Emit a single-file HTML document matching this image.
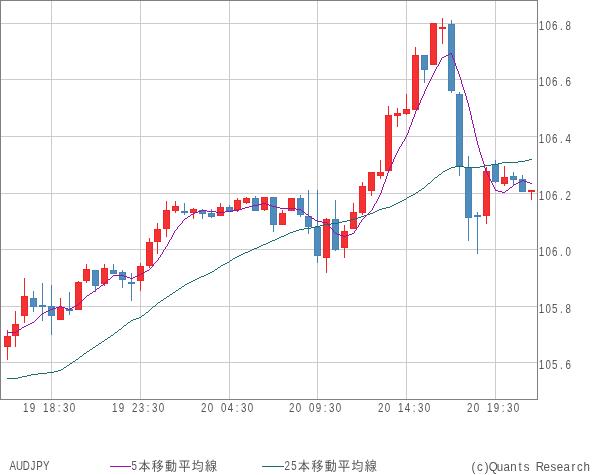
<!DOCTYPE html>
<html lang="ja"><head><meta charset="utf-8"><title>AUDJPY</title>
<style>html,body{margin:0;padding:0;background:#fff}svg{display:block}text{fill:#555555;font-size:13.33px}.s{font-family:"Liberation Sans","IPAGothic",sans-serif;font-size:12.5px}.j{font-family:"Liberation Sans","IPAGothic",sans-serif}</style></head><body>
<svg width="600" height="475" viewBox="0 0 600 475">
<rect x="0" y="0" width="600" height="475" fill="#ffffff"/>
<g shape-rendering="crispEdges" fill="#cccccc">
<rect x="51" y="1" width="1" height="398"/>
<rect x="140" y="1" width="1" height="398"/>
<rect x="229" y="1" width="1" height="398"/>
<rect x="317" y="1" width="1" height="398"/>
<rect x="406" y="1" width="1" height="398"/>
<rect x="495" y="1" width="1" height="398"/>
<rect x="1" y="23" width="536" height="1"/>
<rect x="1" y="79" width="536" height="1"/>
<rect x="1" y="136" width="536" height="1"/>
<rect x="1" y="193" width="536" height="1"/>
<rect x="1" y="249" width="536" height="1"/>
<rect x="1" y="306" width="536" height="1"/>
<rect x="1" y="362" width="536" height="1"/>
</g>
<g shape-rendering="crispEdges" fill="#808080">
<rect x="0" y="0" width="538" height="1"/><rect x="0" y="399" width="538" height="1"/>
<rect x="0" y="0" width="1" height="400"/><rect x="537" y="0" width="1" height="400"/>
</g>
<g shape-rendering="crispEdges">
<rect x="7" y="330" width="1" height="30" fill="#f02626"/>
<rect x="4" y="336" width="7" height="11" fill="#f02626"/>
<rect x="5" y="337" width="5" height="9" fill="#f33333"/>
<rect x="15" y="311" width="1" height="36" fill="#f02626"/>
<rect x="12" y="324" width="7" height="12" fill="#f02626"/>
<rect x="13" y="325" width="5" height="10" fill="#f33333"/>
<rect x="24" y="278" width="1" height="45" fill="#f02626"/>
<rect x="21" y="296" width="7" height="20" fill="#f02626"/>
<rect x="22" y="297" width="5" height="18" fill="#f33333"/>
<rect x="33" y="291" width="1" height="21" fill="#4682b4"/>
<rect x="30" y="298" width="7" height="9" fill="#4682b4"/>
<rect x="31" y="299" width="5" height="7" fill="#508cbc"/>
<rect x="42" y="283" width="1" height="38" fill="#4682b4"/>
<rect x="39" y="305" width="7" height="2" fill="#4682b4"/>
<rect x="51" y="285" width="1" height="50" fill="#4682b4"/>
<rect x="48" y="306" width="7" height="10" fill="#4682b4"/>
<rect x="49" y="307" width="5" height="8" fill="#508cbc"/>
<rect x="60" y="298" width="1" height="22" fill="#f02626"/>
<rect x="57" y="307" width="7" height="13" fill="#f02626"/>
<rect x="58" y="308" width="5" height="11" fill="#f33333"/>
<rect x="69" y="292" width="1" height="23" fill="#4682b4"/>
<rect x="66" y="309" width="7" height="2" fill="#4682b4"/>
<rect x="78" y="281" width="1" height="29" fill="#f02626"/>
<rect x="75" y="282" width="7" height="28" fill="#f02626"/>
<rect x="76" y="283" width="5" height="26" fill="#f33333"/>
<rect x="86" y="264" width="1" height="19" fill="#f02626"/>
<rect x="83" y="269" width="7" height="12" fill="#f02626"/>
<rect x="84" y="270" width="5" height="10" fill="#f33333"/>
<rect x="95" y="270" width="1" height="22" fill="#4682b4"/>
<rect x="92" y="270" width="7" height="16" fill="#4682b4"/>
<rect x="93" y="271" width="5" height="14" fill="#508cbc"/>
<rect x="104" y="264" width="1" height="22" fill="#f02626"/>
<rect x="101" y="268" width="7" height="16" fill="#f02626"/>
<rect x="102" y="269" width="5" height="14" fill="#f33333"/>
<rect x="113" y="264" width="1" height="10" fill="#4682b4"/>
<rect x="110" y="270" width="7" height="4" fill="#4682b4"/>
<rect x="111" y="271" width="5" height="2" fill="#508cbc"/>
<rect x="122" y="270" width="1" height="18" fill="#4682b4"/>
<rect x="119" y="272" width="7" height="8" fill="#4682b4"/>
<rect x="120" y="273" width="5" height="6" fill="#508cbc"/>
<rect x="131" y="273" width="1" height="28" fill="#4682b4"/>
<rect x="128" y="282" width="7" height="2" fill="#4682b4"/>
<rect x="140" y="263" width="1" height="28" fill="#f02626"/>
<rect x="137" y="266" width="7" height="15" fill="#f02626"/>
<rect x="138" y="267" width="5" height="13" fill="#f33333"/>
<rect x="149" y="238" width="1" height="30" fill="#f02626"/>
<rect x="146" y="242" width="7" height="24" fill="#f02626"/>
<rect x="147" y="243" width="5" height="22" fill="#f33333"/>
<rect x="157" y="223" width="1" height="31" fill="#f02626"/>
<rect x="154" y="229" width="7" height="13" fill="#f02626"/>
<rect x="155" y="230" width="5" height="11" fill="#f33333"/>
<rect x="166" y="201" width="1" height="36" fill="#f02626"/>
<rect x="163" y="210" width="7" height="19" fill="#f02626"/>
<rect x="164" y="211" width="5" height="17" fill="#f33333"/>
<rect x="175" y="201" width="1" height="12" fill="#f02626"/>
<rect x="172" y="206" width="7" height="5" fill="#f02626"/>
<rect x="173" y="207" width="5" height="3" fill="#f33333"/>
<rect x="184" y="203" width="1" height="12" fill="#4682b4"/>
<rect x="181" y="211" width="7" height="2" fill="#4682b4"/>
<rect x="193" y="208" width="1" height="11" fill="#f02626"/>
<rect x="190" y="209" width="7" height="4" fill="#f02626"/>
<rect x="191" y="210" width="5" height="2" fill="#f33333"/>
<rect x="202" y="209" width="1" height="10" fill="#4682b4"/>
<rect x="199" y="210" width="7" height="4" fill="#4682b4"/>
<rect x="200" y="211" width="5" height="2" fill="#508cbc"/>
<rect x="211" y="209" width="1" height="9" fill="#4682b4"/>
<rect x="208" y="213" width="7" height="4" fill="#4682b4"/>
<rect x="209" y="214" width="5" height="2" fill="#508cbc"/>
<rect x="220" y="203" width="1" height="13" fill="#f02626"/>
<rect x="217" y="207" width="7" height="9" fill="#f02626"/>
<rect x="218" y="208" width="5" height="7" fill="#f33333"/>
<rect x="229" y="205" width="1" height="6" fill="#4682b4"/>
<rect x="226" y="207" width="7" height="4" fill="#4682b4"/>
<rect x="227" y="208" width="5" height="2" fill="#508cbc"/>
<rect x="237" y="198" width="1" height="14" fill="#f02626"/>
<rect x="234" y="200" width="7" height="10" fill="#f02626"/>
<rect x="235" y="201" width="5" height="8" fill="#f33333"/>
<rect x="246" y="197" width="1" height="7" fill="#f02626"/>
<rect x="243" y="198" width="7" height="5" fill="#f02626"/>
<rect x="244" y="199" width="5" height="3" fill="#f33333"/>
<rect x="255" y="196" width="1" height="15" fill="#4682b4"/>
<rect x="252" y="198" width="7" height="13" fill="#4682b4"/>
<rect x="253" y="199" width="5" height="11" fill="#508cbc"/>
<rect x="264" y="197" width="1" height="14" fill="#f02626"/>
<rect x="261" y="197" width="7" height="13" fill="#f02626"/>
<rect x="262" y="198" width="5" height="11" fill="#f33333"/>
<rect x="273" y="197" width="1" height="35" fill="#4682b4"/>
<rect x="270" y="197" width="7" height="28" fill="#4682b4"/>
<rect x="271" y="198" width="5" height="26" fill="#508cbc"/>
<rect x="282" y="210" width="1" height="15" fill="#f02626"/>
<rect x="279" y="213" width="7" height="12" fill="#f02626"/>
<rect x="280" y="214" width="5" height="10" fill="#f33333"/>
<rect x="291" y="198" width="1" height="13" fill="#f02626"/>
<rect x="288" y="198" width="7" height="13" fill="#f02626"/>
<rect x="289" y="199" width="5" height="11" fill="#f33333"/>
<rect x="300" y="195" width="1" height="22" fill="#4682b4"/>
<rect x="297" y="198" width="7" height="17" fill="#4682b4"/>
<rect x="298" y="199" width="5" height="15" fill="#508cbc"/>
<rect x="308" y="190" width="1" height="44" fill="#4682b4"/>
<rect x="305" y="216" width="7" height="11" fill="#4682b4"/>
<rect x="306" y="217" width="5" height="9" fill="#508cbc"/>
<rect x="317" y="190" width="1" height="73" fill="#4682b4"/>
<rect x="314" y="227" width="7" height="29" fill="#4682b4"/>
<rect x="315" y="228" width="5" height="27" fill="#508cbc"/>
<rect x="326" y="218" width="1" height="55" fill="#f02626"/>
<rect x="323" y="219" width="7" height="39" fill="#f02626"/>
<rect x="324" y="220" width="5" height="37" fill="#f33333"/>
<rect x="335" y="200" width="1" height="51" fill="#4682b4"/>
<rect x="332" y="219" width="7" height="31" fill="#4682b4"/>
<rect x="333" y="220" width="5" height="29" fill="#508cbc"/>
<rect x="344" y="225" width="1" height="33" fill="#f02626"/>
<rect x="341" y="231" width="7" height="17" fill="#f02626"/>
<rect x="342" y="232" width="5" height="15" fill="#f33333"/>
<rect x="353" y="203" width="1" height="26" fill="#f02626"/>
<rect x="350" y="212" width="7" height="17" fill="#f02626"/>
<rect x="351" y="213" width="5" height="15" fill="#f33333"/>
<rect x="362" y="182" width="1" height="33" fill="#f02626"/>
<rect x="359" y="186" width="7" height="27" fill="#f02626"/>
<rect x="360" y="187" width="5" height="25" fill="#f33333"/>
<rect x="371" y="172" width="1" height="24" fill="#f02626"/>
<rect x="368" y="172" width="7" height="19" fill="#f02626"/>
<rect x="369" y="173" width="5" height="17" fill="#f33333"/>
<rect x="380" y="160" width="1" height="19" fill="#f02626"/>
<rect x="377" y="172" width="7" height="4" fill="#f02626"/>
<rect x="378" y="173" width="5" height="2" fill="#f33333"/>
<rect x="388" y="106" width="1" height="65" fill="#f02626"/>
<rect x="385" y="115" width="7" height="56" fill="#f02626"/>
<rect x="386" y="116" width="5" height="54" fill="#f33333"/>
<rect x="397" y="108" width="1" height="19" fill="#f02626"/>
<rect x="394" y="113" width="7" height="3" fill="#f02626"/>
<rect x="395" y="114" width="5" height="1" fill="#f33333"/>
<rect x="406" y="94" width="1" height="21" fill="#f02626"/>
<rect x="403" y="109" width="7" height="5" fill="#f02626"/>
<rect x="404" y="110" width="5" height="3" fill="#f33333"/>
<rect x="415" y="47" width="1" height="63" fill="#f02626"/>
<rect x="412" y="55" width="7" height="55" fill="#f02626"/>
<rect x="413" y="56" width="5" height="53" fill="#f33333"/>
<rect x="424" y="55" width="1" height="28" fill="#4682b4"/>
<rect x="421" y="55" width="7" height="15" fill="#4682b4"/>
<rect x="422" y="56" width="5" height="13" fill="#508cbc"/>
<rect x="433" y="23" width="1" height="42" fill="#f02626"/>
<rect x="430" y="23" width="7" height="42" fill="#f02626"/>
<rect x="431" y="24" width="5" height="40" fill="#f33333"/>
<rect x="442" y="18" width="1" height="26" fill="#f02626"/>
<rect x="439" y="27" width="7" height="2" fill="#f02626"/>
<rect x="451" y="20" width="1" height="73" fill="#4682b4"/>
<rect x="448" y="24" width="7" height="67" fill="#4682b4"/>
<rect x="449" y="25" width="5" height="65" fill="#508cbc"/>
<rect x="459" y="92" width="1" height="84" fill="#4682b4"/>
<rect x="456" y="94" width="7" height="72" fill="#4682b4"/>
<rect x="457" y="95" width="5" height="70" fill="#508cbc"/>
<rect x="468" y="156" width="1" height="85" fill="#4682b4"/>
<rect x="465" y="167" width="7" height="51" fill="#4682b4"/>
<rect x="466" y="168" width="5" height="49" fill="#508cbc"/>
<rect x="477" y="212" width="1" height="42" fill="#4682b4"/>
<rect x="474" y="215" width="7" height="2" fill="#4682b4"/>
<rect x="486" y="167" width="1" height="57" fill="#f02626"/>
<rect x="483" y="171" width="7" height="45" fill="#f02626"/>
<rect x="484" y="172" width="5" height="43" fill="#f33333"/>
<rect x="495" y="160" width="1" height="23" fill="#4682b4"/>
<rect x="492" y="164" width="7" height="18" fill="#4682b4"/>
<rect x="493" y="165" width="5" height="16" fill="#508cbc"/>
<rect x="504" y="166" width="1" height="20" fill="#f02626"/>
<rect x="501" y="177" width="7" height="7" fill="#f02626"/>
<rect x="502" y="178" width="5" height="5" fill="#f33333"/>
<rect x="513" y="172" width="1" height="14" fill="#4682b4"/>
<rect x="510" y="176" width="7" height="4" fill="#4682b4"/>
<rect x="511" y="177" width="5" height="2" fill="#508cbc"/>
<rect x="522" y="175" width="1" height="17" fill="#4682b4"/>
<rect x="519" y="179" width="7" height="13" fill="#4682b4"/>
<rect x="520" y="180" width="5" height="11" fill="#508cbc"/>
<rect x="531" y="190" width="1" height="10" fill="#f02626"/>
<rect x="528" y="190" width="7" height="2" fill="#f02626"/>
</g>
<path d="M529 159h3v1h-3zM525 160h4v1h-4zM518 161h7v1h-7zM502 162h16v1h-16zM498 163h4v1h-4zM491 164h7v1h-7zM484 165h7v1h-7zM455 166h9v1h-9zM480 166h4v1h-4zM451 167h4v1h-4zM464 167h16v1h-16zM449 168h2v1h-2zM447 169h2v1h-2zM445 170h2v1h-2zM443 171h2v1h-2zM442 172h1v1h-1zM441 173h1v1h-1zM439 174h2v1h-2zM438 175h1v1h-1zM437 176h1v1h-1zM435 177h2v1h-2zM434 178h1v1h-1zM433 179h1v1h-1zM432 180h1v1h-1zM431 181h1v1h-1zM430 182h1v1h-1zM428 183h2v1h-2zM427 184h1v1h-1zM426 185h1v1h-1zM425 186h1v1h-1zM424 187h1v1h-1zM422 188h2v1h-2zM421 189h1v1h-1zM419 190h2v1h-2zM418 191h1v1h-1zM416 192h2v1h-2zM415 193h1v1h-1zM413 194h2v1h-2zM411 195h2v1h-2zM409 196h2v1h-2zM407 197h2v1h-2zM406 198h1v1h-1zM404 199h2v1h-2zM402 200h2v1h-2zM400 201h2v1h-2zM398 202h2v1h-2zM396 203h2v1h-2zM394 204h2v1h-2zM392 205h2v1h-2zM390 206h2v1h-2zM386 207h4v1h-4zM382 208h4v1h-4zM379 209h3v1h-3zM377 210h2v1h-2zM375 211h2v1h-2zM373 212h2v1h-2zM370 213h3v1h-3zM367 214h3v1h-3zM364 215h3v1h-3zM361 216h3v1h-3zM358 217h3v1h-3zM355 218h3v1h-3zM351 219h4v1h-4zM347 220h4v1h-4zM342 221h5v1h-5zM338 222h4v1h-4zM331 223h7v1h-7zM324 224h7v1h-7zM320 225h4v1h-4zM315 226h5v1h-5zM311 227h4v1h-4zM304 228h7v1h-7zM299 229h5v1h-5zM296 230h3v1h-3zM293 231h3v1h-3zM290 232h3v1h-3zM288 233h2v1h-2zM286 234h2v1h-2zM284 235h2v1h-2zM281 236h3v1h-3zM279 237h2v1h-2zM277 238h2v1h-2zM275 239h2v1h-2zM272 240h3v1h-3zM270 241h2v1h-2zM268 242h2v1h-2zM266 243h2v1h-2zM263 244h3v1h-3zM261 245h2v1h-2zM259 246h2v1h-2zM257 247h2v1h-2zM254 248h3v1h-3zM252 249h2v1h-2zM250 250h2v1h-2zM248 251h2v1h-2zM245 252h3v1h-3zM243 253h2v1h-2zM241 254h2v1h-2zM239 255h2v1h-2zM237 256h2v1h-2zM235 257h2v1h-2zM233 258h2v1h-2zM232 259h1v1h-1zM230 260h2v1h-2zM229 261h1v1h-1zM227 262h2v1h-2zM225 263h2v1h-2zM223 264h2v1h-2zM221 265h2v1h-2zM220 266h1v1h-1zM218 267h2v1h-2zM217 268h1v1h-1zM215 269h2v1h-2zM214 270h1v1h-1zM212 271h2v1h-2zM210 272h2v1h-2zM208 273h2v1h-2zM206 274h2v1h-2zM204 275h2v1h-2zM201 276h3v1h-3zM199 277h2v1h-2zM197 278h2v1h-2zM195 279h2v1h-2zM193 280h2v1h-2zM191 281h2v1h-2zM189 282h2v1h-2zM187 283h2v1h-2zM185 284h2v1h-2zM184 285h1v1h-1zM182 286h2v1h-2zM181 287h1v1h-1zM179 288h2v1h-2zM178 289h1v1h-1zM176 290h2v1h-2zM175 291h1v1h-1zM173 292h2v1h-2zM172 293h1v1h-1zM170 294h2v1h-2zM169 295h1v1h-1zM167 296h2v1h-2zM166 297h1v1h-1zM164 298h2v1h-2zM163 299h1v1h-1zM161 300h2v1h-2zM160 301h1v1h-1zM158 302h2v1h-2zM157 303h1v1h-1zM156 304h1v1h-1zM155 305h1v1h-1zM153 306h2v1h-2zM152 307h1v1h-1zM151 308h1v1h-1zM150 309h1v1h-1zM149 310h1v1h-1zM148 311h1v1h-1zM146 312h2v1h-2zM145 313h1v1h-1zM144 314h1v1h-1zM142 315h2v1h-2zM141 316h1v1h-1zM139 317h2v1h-2zM136 318h3v1h-3zM133 319h3v1h-3zM131 320h2v1h-2zM130 321h1v1h-1zM128 322h2v1h-2zM127 323h1v1h-1zM126 324h1v1h-1zM124 325h2v1h-2zM123 326h1v1h-1zM122 327h1v1h-1zM121 328h1v1h-1zM119 329h2v1h-2zM118 330h1v1h-1zM117 331h1v1h-1zM115 332h2v1h-2zM114 333h1v1h-1zM113 334h1v1h-1zM111 335h2v1h-2zM110 336h1v1h-1zM108 337h2v1h-2zM107 338h1v1h-1zM105 339h2v1h-2zM104 340h1v1h-1zM102 341h2v1h-2zM101 342h1v1h-1zM99 343h2v1h-2zM98 344h1v1h-1zM96 345h2v1h-2zM95 346h1v1h-1zM93 347h2v1h-2zM92 348h1v1h-1zM90 349h2v1h-2zM89 350h1v1h-1zM87 351h2v1h-2zM86 352h1v1h-1zM84 353h2v1h-2zM83 354h1v1h-1zM82 355h1v1h-1zM80 356h2v1h-2zM79 357h1v1h-1zM78 358h1v1h-1zM76 359h2v1h-2zM75 360h1v1h-1zM73 361h2v1h-2zM72 362h1v1h-1zM70 363h2v1h-2zM69 364h1v1h-1zM67 365h2v1h-2zM66 366h1v1h-1zM64 367h2v1h-2zM63 368h1v1h-1zM61 369h2v1h-2zM58 370h3v1h-3zM54 371h4v1h-4zM47 372h7v1h-7zM38 373h9v1h-9zM31 374h7v1h-7zM27 375h4v1h-4zM22 376h5v1h-5zM18 377h4v1h-4zM7 378h11v1h-11z" fill="#1a6e6e" shape-rendering="crispEdges"/>
<path d="M450 53h2v1h-2zM448 54h2v1h-2zM451 54h1v1h-1zM446 55h2v1h-2zM452 55h1v1h-1zM444 56h2v1h-2zM452 56h1v1h-1zM442 57h2v1h-2zM452 57h1v1h-1zM441 58h1v1h-1zM453 58h1v1h-1zM441 59h1v1h-1zM453 59h1v1h-1zM440 60h1v1h-1zM454 60h1v1h-1zM440 61h1v1h-1zM454 61h1v1h-1zM439 62h1v1h-1zM454 62h1v1h-1zM439 63h1v1h-1zM455 63h1v1h-1zM438 64h1v1h-1zM455 64h1v1h-1zM438 65h1v1h-1zM455 65h1v1h-1zM437 66h1v1h-1zM456 66h1v1h-1zM436 67h1v1h-1zM456 67h1v1h-1zM436 68h1v1h-1zM456 68h1v1h-1zM435 69h1v1h-1zM457 69h1v1h-1zM435 70h1v1h-1zM457 70h1v1h-1zM434 71h1v1h-1zM458 71h1v1h-1zM434 72h1v1h-1zM458 72h1v1h-1zM433 73h1v1h-1zM458 73h1v1h-1zM433 74h1v1h-1zM459 74h1v1h-1zM432 75h1v1h-1zM459 75h1v1h-1zM432 76h1v1h-1zM459 76h1v1h-1zM431 77h1v1h-1zM460 77h1v1h-1zM431 78h1v1h-1zM460 78h1v1h-1zM430 79h1v1h-1zM460 79h1v1h-1zM430 80h1v1h-1zM461 80h1v1h-1zM429 81h1v1h-1zM461 81h1v1h-1zM429 82h1v1h-1zM461 82h1v1h-1zM428 83h1v1h-1zM461 83h1v1h-1zM428 84h1v1h-1zM462 84h1v1h-1zM427 85h1v1h-1zM462 85h1v1h-1zM427 86h1v1h-1zM462 86h1v1h-1zM426 87h1v1h-1zM463 87h1v1h-1zM426 88h1v1h-1zM463 88h1v1h-1zM425 89h1v1h-1zM463 89h1v1h-1zM425 90h1v1h-1zM464 90h1v1h-1zM424 91h1v1h-1zM464 91h1v1h-1zM424 92h1v1h-1zM464 92h1v1h-1zM424 93h1v1h-1zM465 93h1v1h-1zM423 94h1v1h-1zM465 94h1v1h-1zM423 95h1v1h-1zM465 95h1v1h-1zM422 96h1v1h-1zM466 96h1v1h-1zM422 97h1v1h-1zM466 97h1v1h-1zM421 98h1v1h-1zM466 98h1v1h-1zM421 99h1v1h-1zM466 99h1v1h-1zM420 100h1v1h-1zM467 100h1v1h-1zM420 101h1v1h-1zM467 101h1v1h-1zM420 102h1v1h-1zM467 102h1v1h-1zM419 103h1v1h-1zM468 103h1v1h-1zM419 104h1v1h-1zM468 104h1v1h-1zM418 105h1v1h-1zM468 105h1v1h-1zM418 106h1v1h-1zM468 106h1v1h-1zM417 107h1v1h-1zM469 107h1v1h-1zM417 108h1v1h-1zM469 108h1v1h-1zM416 109h1v1h-1zM469 109h1v1h-1zM416 110h1v1h-1zM469 110h1v1h-1zM415 111h1v1h-1zM470 111h1v1h-1zM415 112h1v1h-1zM470 112h1v1h-1zM415 113h1v1h-1zM470 113h1v1h-1zM414 114h1v1h-1zM470 114h1v1h-1zM414 115h1v1h-1zM471 115h1v1h-1zM414 116h1v1h-1zM471 116h1v1h-1zM413 117h1v1h-1zM471 117h1v1h-1zM413 118h1v1h-1zM471 118h1v1h-1zM412 119h1v1h-1zM471 119h1v1h-1zM412 120h1v1h-1zM472 120h1v1h-1zM412 121h1v1h-1zM472 121h1v1h-1zM411 122h1v1h-1zM472 122h1v1h-1zM411 123h1v1h-1zM472 123h1v1h-1zM411 124h1v1h-1zM473 124h1v1h-1zM410 125h1v1h-1zM473 125h1v1h-1zM410 126h1v1h-1zM473 126h1v1h-1zM409 127h1v1h-1zM473 127h1v1h-1zM409 128h1v1h-1zM474 128h1v1h-1zM409 129h1v1h-1zM474 129h1v1h-1zM408 130h1v1h-1zM474 130h1v1h-1zM408 131h1v1h-1zM474 131h1v1h-1zM408 132h1v1h-1zM474 132h1v1h-1zM407 133h1v1h-1zM475 133h1v1h-1zM407 134h1v1h-1zM475 134h1v1h-1zM406 135h1v1h-1zM475 135h1v1h-1zM406 136h1v1h-1zM475 136h1v1h-1zM405 137h1v1h-1zM476 137h1v1h-1zM405 138h1v1h-1zM476 138h1v1h-1zM404 139h1v1h-1zM476 139h1v1h-1zM404 140h1v1h-1zM476 140h1v1h-1zM403 141h1v1h-1zM477 141h1v1h-1zM402 142h1v1h-1zM477 142h1v1h-1zM402 143h1v1h-1zM477 143h1v1h-1zM401 144h1v1h-1zM477 144h1v1h-1zM401 145h1v1h-1zM478 145h1v1h-1zM400 146h1v1h-1zM478 146h1v1h-1zM399 147h1v1h-1zM478 147h1v1h-1zM399 148h1v1h-1zM479 148h1v1h-1zM398 149h1v1h-1zM479 149h1v1h-1zM398 150h1v1h-1zM479 150h1v1h-1zM397 151h1v1h-1zM479 151h1v1h-1zM397 152h1v1h-1zM480 152h1v1h-1zM396 153h1v1h-1zM480 153h1v1h-1zM396 154h1v1h-1zM480 154h1v1h-1zM395 155h1v1h-1zM481 155h1v1h-1zM395 156h1v1h-1zM481 156h1v1h-1zM394 157h1v1h-1zM481 157h1v1h-1zM394 158h1v1h-1zM482 158h1v1h-1zM393 159h1v1h-1zM482 159h1v1h-1zM393 160h1v1h-1zM482 160h1v1h-1zM393 161h1v1h-1zM483 161h1v1h-1zM392 162h1v1h-1zM483 162h1v1h-1zM392 163h1v1h-1zM483 163h1v1h-1zM391 164h1v1h-1zM484 164h1v1h-1zM391 165h1v1h-1zM484 165h1v1h-1zM390 166h1v1h-1zM484 166h1v1h-1zM390 167h1v1h-1zM484 167h1v1h-1zM389 168h1v1h-1zM485 168h1v1h-1zM389 169h1v1h-1zM485 169h1v1h-1zM388 170h1v1h-1zM485 170h1v1h-1zM388 171h1v1h-1zM486 171h1v1h-1zM388 172h1v1h-1zM486 172h1v1h-1zM387 173h1v1h-1zM487 173h1v1h-1zM387 174h1v1h-1zM487 174h1v1h-1zM387 175h1v1h-1zM488 175h1v1h-1zM386 176h1v1h-1zM488 176h1v1h-1zM386 177h1v1h-1zM489 177h1v1h-1zM386 178h1v1h-1zM489 178h1v1h-1zM385 179h1v1h-1zM490 179h1v1h-1zM385 180h1v1h-1zM490 180h1v1h-1zM522 180h2v1h-2zM385 181h1v1h-1zM491 181h1v1h-1zM520 181h2v1h-2zM524 181h3v1h-3zM384 182h1v1h-1zM491 182h1v1h-1zM518 182h2v1h-2zM527 182h3v1h-3zM384 183h1v1h-1zM492 183h1v1h-1zM516 183h2v1h-2zM530 183h2v1h-2zM383 184h1v1h-1zM492 184h1v1h-1zM514 184h2v1h-2zM383 185h1v1h-1zM493 185h1v1h-1zM513 185h1v1h-1zM383 186h1v1h-1zM493 186h1v1h-1zM512 186h1v1h-1zM382 187h1v1h-1zM494 187h1v1h-1zM510 187h2v1h-2zM382 188h1v1h-1zM494 188h1v1h-1zM509 188h1v1h-1zM382 189h1v1h-1zM495 189h1v1h-1zM508 189h1v1h-1zM381 190h1v1h-1zM495 190h3v1h-3zM506 190h2v1h-2zM381 191h1v1h-1zM498 191h4v1h-4zM505 191h1v1h-1zM381 192h1v1h-1zM502 192h3v1h-3zM380 193h1v1h-1zM380 194h1v1h-1zM379 195h1v1h-1zM379 196h1v1h-1zM378 197h1v1h-1zM378 198h1v1h-1zM377 199h1v1h-1zM377 200h1v1h-1zM376 201h1v1h-1zM376 202h1v1h-1zM262 203h4v1h-4zM375 203h1v1h-1zM258 204h4v1h-4zM266 204h3v1h-3zM374 204h1v1h-1zM253 205h5v1h-5zM269 205h3v1h-3zM374 205h1v1h-1zM249 206h4v1h-4zM272 206h4v1h-4zM373 206h1v1h-1zM245 207h4v1h-4zM276 207h4v1h-4zM373 207h1v1h-1zM242 208h3v1h-3zM280 208h16v1h-16zM372 208h1v1h-1zM239 209h3v1h-3zM296 209h5v1h-5zM372 209h1v1h-1zM201 210h6v1h-6zM233 210h6v1h-6zM301 210h1v1h-1zM371 210h1v1h-1zM198 211h3v1h-3zM207 211h9v1h-9zM225 211h8v1h-8zM302 211h2v1h-2zM370 211h1v1h-1zM195 212h3v1h-3zM216 212h9v1h-9zM304 212h1v1h-1zM369 212h1v1h-1zM193 213h2v1h-2zM305 213h1v1h-1zM368 213h1v1h-1zM191 214h2v1h-2zM306 214h2v1h-2zM367 214h1v1h-1zM190 215h1v1h-1zM308 215h1v1h-1zM366 215h1v1h-1zM188 216h2v1h-2zM309 216h2v1h-2zM365 216h1v1h-1zM187 217h1v1h-1zM311 217h1v1h-1zM364 217h1v1h-1zM185 218h2v1h-2zM312 218h2v1h-2zM363 218h1v1h-1zM184 219h1v1h-1zM314 219h1v1h-1zM362 219h1v1h-1zM183 220h1v1h-1zM315 220h2v1h-2zM361 220h1v1h-1zM182 221h1v1h-1zM317 221h5v1h-5zM361 221h1v1h-1zM182 222h1v1h-1zM322 222h5v1h-5zM360 222h1v1h-1zM181 223h1v1h-1zM327 223h1v1h-1zM359 223h1v1h-1zM180 224h1v1h-1zM328 224h1v1h-1zM359 224h1v1h-1zM179 225h1v1h-1zM328 225h1v1h-1zM358 225h1v1h-1zM178 226h1v1h-1zM329 226h1v1h-1zM358 226h1v1h-1zM177 227h1v1h-1zM330 227h1v1h-1zM357 227h1v1h-1zM177 228h1v1h-1zM331 228h1v1h-1zM356 228h1v1h-1zM176 229h1v1h-1zM332 229h1v1h-1zM356 229h1v1h-1zM175 230h1v1h-1zM333 230h1v1h-1zM355 230h1v1h-1zM174 231h1v1h-1zM333 231h1v1h-1zM354 231h1v1h-1zM174 232h1v1h-1zM334 232h1v1h-1zM354 232h1v1h-1zM173 233h1v1h-1zM335 233h2v1h-2zM352 233h2v1h-2zM173 234h1v1h-1zM337 234h3v1h-3zM349 234h3v1h-3zM172 235h1v1h-1zM340 235h3v1h-3zM346 235h3v1h-3zM172 236h1v1h-1zM343 236h3v1h-3zM171 237h1v1h-1zM171 238h1v1h-1zM170 239h1v1h-1zM169 240h1v1h-1zM169 241h1v1h-1zM168 242h1v1h-1zM168 243h1v1h-1zM167 244h1v1h-1zM167 245h1v1h-1zM166 246h1v1h-1zM165 247h1v1h-1zM165 248h1v1h-1zM164 249h1v1h-1zM163 250h1v1h-1zM163 251h1v1h-1zM162 252h1v1h-1zM162 253h1v1h-1zM161 254h1v1h-1zM160 255h1v1h-1zM160 256h1v1h-1zM159 257h1v1h-1zM158 258h1v1h-1zM158 259h1v1h-1zM157 260h1v1h-1zM156 261h1v1h-1zM155 262h1v1h-1zM154 263h1v1h-1zM153 264h1v1h-1zM153 265h1v1h-1zM152 266h1v1h-1zM151 267h1v1h-1zM150 268h1v1h-1zM149 269h1v1h-1zM147 270h2v1h-2zM145 271h2v1h-2zM143 272h2v1h-2zM141 273h2v1h-2zM139 274h2v1h-2zM113 275h11v1h-11zM137 275h2v1h-2zM112 276h1v1h-1zM124 276h3v1h-3zM135 276h2v1h-2zM111 277h1v1h-1zM127 277h3v1h-3zM133 277h2v1h-2zM110 278h1v1h-1zM130 278h3v1h-3zM108 279h2v1h-2zM107 280h1v1h-1zM106 281h1v1h-1zM105 282h1v1h-1zM104 283h1v1h-1zM103 284h1v1h-1zM101 285h2v1h-2zM100 286h1v1h-1zM99 287h1v1h-1zM97 288h2v1h-2zM96 289h1v1h-1zM95 290h1v1h-1zM93 291h2v1h-2zM92 292h1v1h-1zM90 293h2v1h-2zM89 294h1v1h-1zM87 295h2v1h-2zM86 296h1v1h-1zM85 297h1v1h-1zM84 298h1v1h-1zM83 299h1v1h-1zM82 300h1v1h-1zM81 301h1v1h-1zM80 302h1v1h-1zM79 303h1v1h-1zM78 304h1v1h-1zM76 305h2v1h-2zM59 306h3v1h-3zM74 306h2v1h-2zM56 307h3v1h-3zM62 307h3v1h-3zM72 307h2v1h-2zM53 308h3v1h-3zM65 308h3v1h-3zM70 308h2v1h-2zM50 309h3v1h-3zM68 309h2v1h-2zM48 310h2v1h-2zM46 311h2v1h-2zM44 312h2v1h-2zM42 313h2v1h-2zM41 314h1v1h-1zM40 315h1v1h-1zM39 316h1v1h-1zM38 317h1v1h-1zM37 318h1v1h-1zM36 319h1v1h-1zM35 320h1v1h-1zM34 321h1v1h-1zM32 322h2v1h-2zM30 323h2v1h-2zM28 324h2v1h-2zM26 325h2v1h-2zM24 326h2v1h-2zM22 327h2v1h-2zM21 328h1v1h-1zM19 329h2v1h-2zM18 330h1v1h-1zM16 331h2v1h-2zM7 332h9v1h-9z" fill="#9911aa" shape-rendering="crispEdges"/>
<g shape-rendering="crispEdges"><rect x="110" y="466" width="21" height="1" fill="#9911aa"/><rect x="262" y="466" width="22" height="1" fill="#1a6e6e"/></g>
<text class="s" text-anchor="middle" transform="translate(538.10,30) scale(0.780,1)" x="4.27 12.82 21.37 29.92 38.46" y="0" xml:space="preserve">106.8</text>
<text class="s" text-anchor="middle" transform="translate(538.10,86) scale(0.780,1)" x="4.27 12.82 21.37 29.92 38.46" y="0" xml:space="preserve">106.6</text>
<text class="s" text-anchor="middle" transform="translate(538.10,143) scale(0.780,1)" x="4.27 12.82 21.37 29.92 38.46" y="0" xml:space="preserve">106.4</text>
<text class="s" text-anchor="middle" transform="translate(538.10,200) scale(0.780,1)" x="4.27 12.82 21.37 29.92 38.46" y="0" xml:space="preserve">106.2</text>
<text class="s" text-anchor="middle" transform="translate(538.10,256) scale(0.780,1)" x="4.27 12.82 21.37 29.92 38.46" y="0" xml:space="preserve">106.0</text>
<text class="s" text-anchor="middle" transform="translate(538.10,313) scale(0.780,1)" x="4.27 12.82 21.37 29.92 38.46" y="0" xml:space="preserve">105.8</text>
<text class="s" text-anchor="middle" transform="translate(538.10,369) scale(0.780,1)" x="4.27 12.82 21.37 29.92 38.46" y="0" xml:space="preserve">105.6</text>
<text class="s" text-anchor="middle" transform="translate(22.50,412) scale(0.780,1)" x="4.27 12.82 21.37 29.92 38.46 47.01 55.56 64.11" y="0" xml:space="preserve">19 18:30</text>
<text class="s" text-anchor="middle" transform="translate(111.50,412) scale(0.780,1)" x="4.27 12.82 21.37 29.92 38.46 47.01 55.56 64.11" y="0" xml:space="preserve">19 23:30</text>
<text class="s" text-anchor="middle" transform="translate(200.50,412) scale(0.780,1)" x="4.27 12.82 21.37 29.92 38.46 47.01 55.56 64.11" y="0" xml:space="preserve">20 04:30</text>
<text class="s" text-anchor="middle" transform="translate(288.50,412) scale(0.780,1)" x="4.27 12.82 21.37 29.92 38.46 47.01 55.56 64.11" y="0" xml:space="preserve">20 09:30</text>
<text class="s" text-anchor="middle" transform="translate(377.50,412) scale(0.780,1)" x="4.27 12.82 21.37 29.92 38.46 47.01 55.56 64.11" y="0" xml:space="preserve">20 14:30</text>
<text class="s" text-anchor="middle" transform="translate(466.50,412) scale(0.780,1)" x="4.27 12.82 21.37 29.92 38.46 47.01 55.56 64.11" y="0" xml:space="preserve">20 19:30</text>
<text class="s" text-anchor="middle" transform="translate(9.50,470) scale(0.780,1)" x="4.27 12.82 21.37 29.92 38.46 47.01" y="0" xml:space="preserve">AUDJPY</text>
<text class="s" text-anchor="middle" transform="translate(131.00,470) scale(0.780,1)" x="4.27" y="0" xml:space="preserve">5</text>
<text class="j" text-anchor="middle" transform="translate(137.67,471) scale(0.930,1.030)" x="7.17 21.51 35.84 50.18 64.52 78.86" y="0">本移動平均線</text>
<text class="s" text-anchor="middle" transform="translate(284.00,470) scale(0.780,1)" x="4.27 12.82" y="0" xml:space="preserve">25</text>
<text class="j" text-anchor="middle" transform="translate(297.33,471) scale(0.930,1.030)" x="7.17 21.51 35.84 50.18 64.52 78.86" y="0">本移動平均線</text>
<text class="s" text-anchor="middle" transform="translate(470.00,471) scale(0.920,1)" x="3.62 10.87 18.12 25.36 32.61 39.86 47.10 54.35 61.60 68.84 76.09 83.34 90.58 97.83 105.08 112.32 119.57 126.82" y="0" xml:space="preserve">(c)Quants Research</text>
</svg></body></html>
